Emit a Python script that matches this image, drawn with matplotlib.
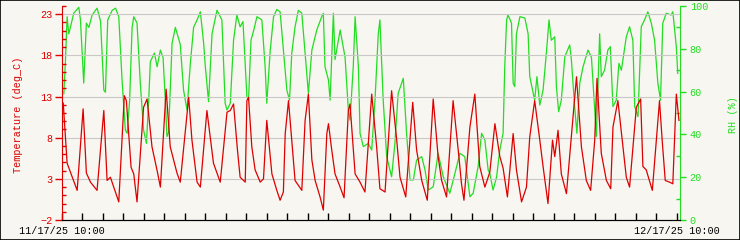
import matplotlib

matplotlib.use("Agg")

import matplotlib.pyplot as plt
from matplotlib.patches import Rectangle
from matplotlib.ticker import MultipleLocator, FixedLocator

# days since 11/17/25 10:00
temp_day = [0.06, 0.25, 0.74, 1.03, 1.19, 1.39, 1.71, 2.04, 2.20, 2.36, 2.77, 3.04, 3.14, 3.37, 3.50,
            3.66, 3.98, 4.15, 4.39, 4.64, 4.80, 5.08, 5.28, 5.61, 5.77, 6.18, 6.34, 6.59, 6.75, 7.07,
            7.39, 7.72, 8.05, 8.21, 8.37, 8.56, 8.69, 8.94, 9.02, 9.10, 9.26, 9.42, 9.67, 9.83, 9.99,
            10.24, 10.48, 10.64, 10.80, 10.89, 11.05, 11.37, 11.70, 11.86, 12.02, 12.19, 12.35, 12.59,
            12.75, 12.92, 13.00, 13.16, 13.32, 13.57, 13.76, 13.97, 14.05, 14.30, 14.54, 14.78, 15.11,
            15.35, 15.51, 15.76, 16.08, 16.33, 16.49, 16.77, 17.11, 17.30, 17.55, 17.82, 18.11, 18.35,
            18.52, 18.76, 19.08, 19.33, 19.49, 19.61, 19.90, 20.14, 20.38, 20.63, 20.87, 21.12, 21.36,
            21.52, 21.73, 22.01, 22.17, 22.42, 22.66, 22.82, 23.06, 23.31, 23.47, 23.71, 23.93, 24.04,
            24.20, 24.36, 24.61, 24.93, 25.10, 25.34, 25.58, 25.79, 25.99, 26.10, 26.31, 26.56, 26.77,
            26.88, 27.12, 27.37, 27.53, 27.69, 28.02, 28.23, 28.34, 28.50, 28.80, 29.15, 29.28, 29.43,
            29.64, 29.80, 29.97, 30.10]
temp_val = [12.2, 4.9, 1.6, 11.5, 3.7, 2.6, 1.6, 11.3, 2.8, 3.2, 0.2, 13.1, 12.5, 4.4, 3.6,
            0.2, 11.7, 12.7, 6.9, 4.0, 2.0, 13.9, 6.9, 3.7, 2.6, 12.9, 7.7, 2.6, 2.0, 11.3,
            4.9, 2.6, 11.1, 11.3, 12.1, 6.5, 3.2, 2.6, 12.5, 12.9, 6.9, 4.1, 2.6, 3.0, 10.1,
            3.6, 1.6, 0.4, 1.4, 8.5, 12.5, 2.8, 1.6, 10.1, 13.3, 5.3, 2.8, 0.8,
            -0.8, 8.5, 9.7, 6.5, 3.6, 2.0, 0.7, 11.3, 12.1, 3.6, 2.6, 1.4, 13.3,
            6.9, 1.8, 1.4, 13.7, 7.7, 3.2, 0.8, 12.3, 6.5, 2.8, 0.4, 12.7, 5.7,
            2.8, 0.8, 12.5, 6.5, 2.4, 0.4, 9.3, 13.3, 4.5, 2.0, 3.8, 9.7, 5.7,
            4.3, 0.8, 8.5, 4.1, 0.2, 2.0, 8.1, 12.5, 7.7, 4.5, 0.0, 7.7, 5.7,
            8.9, 3.6, 1.2, 10.5, 15.4, 6.9, 2.8, 1.6, 7.7, 15.2, 6.1, 2.8, 1.8,
            9.3, 12.5, 6.9, 3.2, 2.0, 11.7, 12.7, 4.5, 4.1, 1.6, 12.5, 7.7, 2.8,
            2.6, 2.4, 13.3, 10.1]

rh_day = [0.09, 0.17, 0.25, 0.33, 0.41, 0.57, 0.82, 0.90, 1.06, 1.19, 1.31, 1.47, 1.71, 1.88, 2.04,
          2.12, 2.23, 2.45, 2.61, 2.77, 2.93, 3.09, 3.18, 3.30, 3.42, 3.50, 3.66, 3.82, 3.98, 4.12,
          4.23, 4.31, 4.51, 4.64, 4.80, 4.93, 5.04, 5.12, 5.20, 5.37, 5.53, 5.77, 5.93, 6.10, 6.26,
          6.42, 6.59, 6.75, 6.91, 6.99, 7.15, 7.32, 7.56, 7.80, 7.96, 8.05, 8.21, 8.37, 8.53, 8.69,
          8.83, 9.02, 9.10, 9.22, 9.35, 9.51, 9.75, 9.91, 9.99, 10.16, 10.32, 10.48, 10.64, 10.80,
          10.97, 11.10, 11.21, 11.37, 11.53, 11.70, 11.94, 12.02, 12.19, 12.43, 12.67, 12.75, 12.83,
          13.00, 13.08, 13.24, 13.32, 13.57, 13.81, 13.97, 14.05, 14.21, 14.30, 14.46, 14.54, 14.70,
          14.94, 15.11, 15.27, 15.43, 15.51, 15.67, 15.84, 16.08, 16.24, 16.40, 16.65, 16.81, 16.98,
          17.14, 17.30, 17.55, 17.71, 17.87, 18.11, 18.35, 18.60, 18.92, 19.17, 19.41, 19.65, 19.90,
          20.06, 20.30, 20.47, 20.63, 20.79, 20.87, 21.03, 21.20, 21.36, 21.52, 21.60, 21.69, 21.76,
          21.93, 22.01, 22.09, 22.17, 22.34, 22.58, 22.74, 22.82, 23.06, 23.17, 23.31, 23.47, 23.63,
          23.76, 23.87, 24.04, 24.12, 24.23, 24.36, 24.53, 24.77, 24.85, 25.01, 25.12, 25.26, 25.42,
          25.66, 25.83, 25.99, 26.07, 26.23, 26.31, 26.47, 26.63, 26.75, 26.88, 27.04, 27.17, 27.29,
          27.53, 27.69, 27.85, 27.94, 28.10, 28.26, 28.42, 28.58, 28.75, 28.91, 29.07, 29.20, 29.31,
          29.48, 29.72, 29.80, 29.97, 30.04]
rh_val = [59, 75, 95, 87, 90, 96.6, 99.4, 93.5, 64, 92, 90, 95.8, 99, 93, 60.7,
          59.7, 93.5, 98, 99, 95, 65.4, 42, 40.5, 56, 90, 95, 92, 64, 42, 35.8,
          56, 74, 78, 71.6, 79.4, 76, 56, 39, 41, 82.6, 90, 82, 60.7, 51.4, 73,
          90, 93.5, 97.3, 82.6, 72, 55.3, 87, 98, 93.5, 54.5, 51.4, 54.5, 84, 95.8, 90.3,
          92.7, 57.6, 56, 84, 88.5, 95, 93.5, 71.6, 54.5, 79.4, 95, 98.4, 97.3, 79.4,
          60.7, 56, 78, 90.3, 98, 96.6, 68.5, 59.2, 79.4, 88.8, 95, 96.6, 71.6,
          65.4, 56, 96.6, 75, 88.8, 76, 51.4, 46.7, 71.6, 95, 71.6, 40.5, 34.3,
          35.8, 32.7, 56, 87, 93.5, 56, 29.6, 20.2, 35.8, 59.2, 66.2, 40.5, 18.7,
          18.7, 28, 29.6, 23.4, 14, 15.5, 31.2, 20.2, 12.5, 21.8, 31.2, 29.6, 10.9,
          12.5, 24.9, 40.5, 37.4, 23.4, 21.8, 14, 20, 32.7, 40.5, 71.6, 93.5, 95.8,
          92, 63.9, 62.3, 87, 95, 94.4, 87, 67, 56, 67, 53.7, 60.7, 78,
          93.5, 84, 85.6, 62.3, 50.6, 56, 76.3, 81.8, 75, 53, 40.5, 64, 71.6,
          79.4, 76, 51.4, 39, 87, 67, 70, 79.4, 81, 53, 56, 73.2, 70,
          85.6, 90.3, 84, 53, 48.3, 90.3, 93.5, 97.3, 92, 84, 63.9, 56, 92,
          96.6, 95.8, 97.3, 81, 68.5]

x_labels = ["11/17/25 10:00", "12/17/25 10:00"]

RED = "#dd0000"
GREEN = "#22dd22"
FONT = "Liberation Mono"
FS = 7.3

W, H = 740, 240
fig = plt.figure(figsize=(W / 100, H / 100), dpi=100, facecolor="#f7f6f0")
fig.add_artist(Rectangle((0, 0), 1, 1, transform=fig.transFigure, fill=False,
                         edgecolor="black", linewidth=1.2))

ax = fig.add_axes([62 / W, 20 / H, (680 - 62) / W, (234 - 20) / H])
ax.set_xlim(0, 30.15)
ax.set_ylim(-2, 24)

ax2 = ax.twinx()
ax2.set_ylim(0, 100)

ax2.plot(rh_day, rh_val, color=GREEN, linewidth=0.9)
ax.plot(temp_day, temp_val, color=RED, linewidth=0.9, zorder=3)
ax.set_zorder(ax2.get_zorder() + 1)
ax.patch.set_visible(False)
ax2.patch.set_facecolor("white")

for a in (ax, ax2):
    a.spines["top"].set_visible(False)
ax.spines["left"].set_color(RED)
ax.spines["right"].set_visible(False)
ax2.spines["left"].set_visible(False)
ax2.spines["right"].set_color(GREEN)
ax2.spines["bottom"].set_color("black")
ax.spines["bottom"].set_color("black")

# left axis
ax.yaxis.set_major_locator(FixedLocator([-2, 3, 8, 13, 18, 23]))
ax.yaxis.set_minor_locator(MultipleLocator(1))
ax.tick_params(axis="y", which="major", colors=RED, direction="out", length=5, width=1,
               labelsize=FS, pad=2)
ax.tick_params(axis="y", which="minor", colors=RED, direction="in", length=3, width=1)
for t in ax.get_yticklabels():
    t.set_fontfamily(FONT)
ax.grid(axis="y", which="major", color="#c8c8c8", linewidth=0.8)

# right axis
ax2.yaxis.set_major_locator(MultipleLocator(20))
ax2.yaxis.set_minor_locator(MultipleLocator(10))
ax2.tick_params(axis="y", which="major", colors=GREEN, direction="out", length=4, width=1,
                labelsize=FS, pad=3)
ax2.tick_params(axis="y", which="minor", colors=GREEN, direction="in", length=3, width=1)
for t in ax2.get_yticklabels():
    t.set_fontfamily(FONT)

fig.text(18 / W, 1 - 115 / H, "Temperature (deg_C)", color=RED, fontsize=FS, family=FONT,
         rotation=90, ha="center", va="center")
fig.text(733 / W, 1 - 115 / H, "RH (%)", color=GREEN, fontsize=FS, family=FONT,
         rotation=90, ha="center", va="center")

# bottom axis
ax.set_xticks(list(range(0, 31)))
ax.set_xticklabels([x_labels[0]] + [""] * 29 + [x_labels[1]], family=FONT, fontsize=FS)
ax.tick_params(axis="x", which="major", direction="in", length=5, width=1, color="black", pad=4.5)
ax2.tick_params(axis="x", bottom=False)

fig.savefig("out.png", dpi=100, facecolor=fig.get_facecolor())
